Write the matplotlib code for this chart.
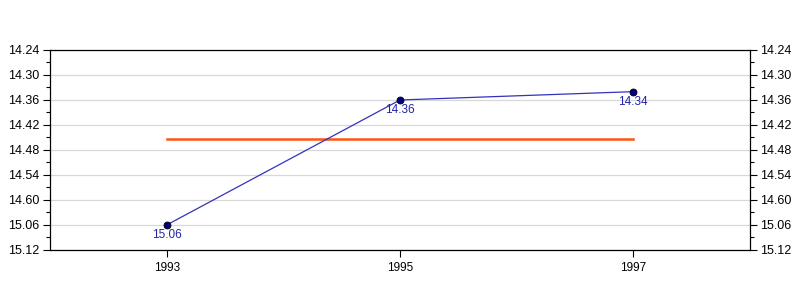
import matplotlib
matplotlib.use('Agg')
import matplotlib.pyplot as plt
from matplotlib.ticker import MultipleLocator

plt.rcParams['font.family'] = ['Liberation Sans', 'DejaVu Sans']

# race times as minutes.seconds
years = [1993, 1995, 1997]
times = ['15.06', '14.36', '14.34']
# tick labels exactly as printed on the original chart
ytick_labels = ['14.24', '14.30', '14.36', '14.42', '14.48',
                '14.54', '14.60', '15.06', '15.12']


def to_sec(t):
    m, s = t.split('.')
    return int(m) * 60 + int(s)


secs = [to_sec(t) for t in times]
mean = sum(secs) / len(secs)
ytick_pos = [to_sec('14.24') + 6 * i for i in range(len(ytick_labels))]

fig = plt.figure(figsize=(8, 3), dpi=100)
ax = fig.add_axes([0.0625, 0.1667, 0.875, 0.6667])

ax.plot([years[0], years[-1]], [mean, mean], color='#ff5511', lw=1.8, zorder=2)
ax.plot(years, secs, color='#3333bb', lw=0.9, zorder=3)
ax.plot(years, secs, 'o', color='#000080', mec='black', mew=0.6, ms=5, zorder=4)
for x, y, t in zip(years, secs, times):
    ax.annotate(t, (x, y), xytext=(0, -7.5), textcoords='offset points',
                ha='center', va='center', color='#2222aa', fontsize=8.5)

ax.set_xlim(1992, 1998)
ax.set_xticks(years)
ax.set_xticklabels([str(y) for y in years])
ax.set_ylim(ytick_pos[-1], ytick_pos[0])
ax.set_yticks(ytick_pos)
ax.set_yticklabels(ytick_labels)
ax.yaxis.set_minor_locator(MultipleLocator(3))
ax.grid(axis='y', color='#d8d8d8', lw=0.9, zorder=0)
ax.set_axisbelow(True)
ax.tick_params(axis='x', which='major', labelsize=8.5, length=5, width=0.8)
ax.tick_params(axis='y', which='major', labelsize=9, length=5, width=0.8, pad=2.5)
ax.tick_params(axis='y', which='minor', length=3, width=0.8)
ax.tick_params(axis='y', left=True, right=True, labelleft=True, labelright=True, which='both')
for sp in ax.spines.values():
    sp.set_linewidth(0.9)

fig.savefig('out.png', dpi=100)
